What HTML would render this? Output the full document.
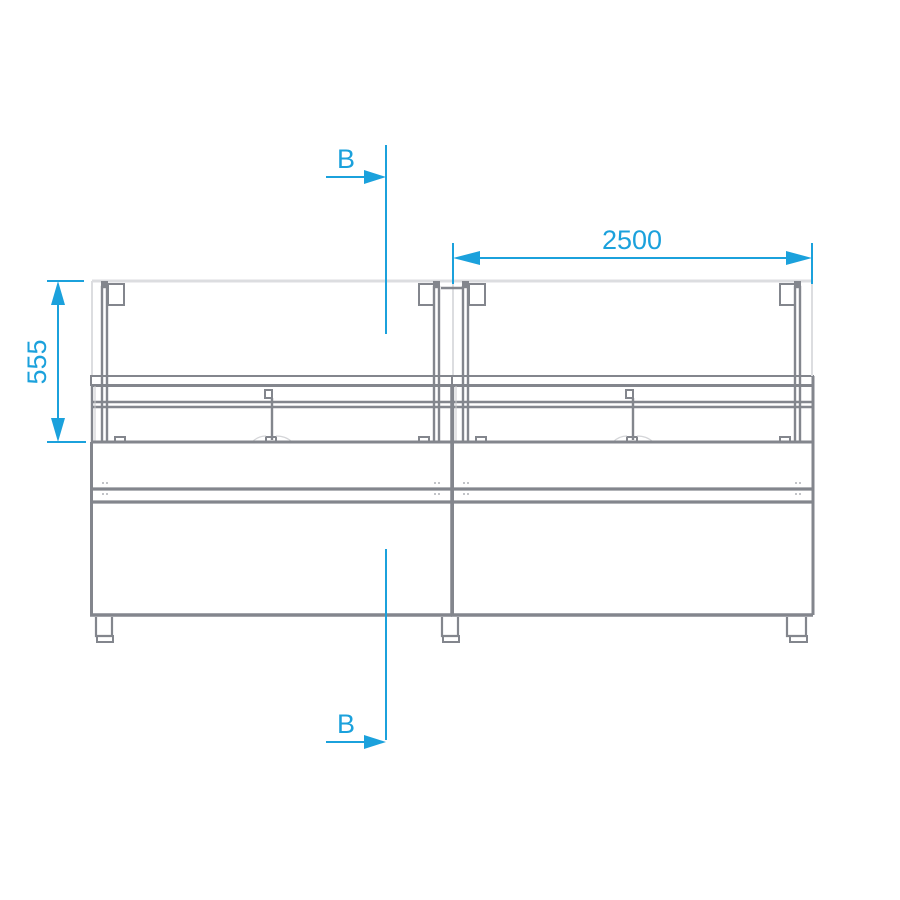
<!DOCTYPE html>
<html><head><style>html,body{margin:0;padding:0;background:#fff}svg{display:block}</style></head>
<body>
<svg width="900" height="900" viewBox="0 0 900 900" xmlns="http://www.w3.org/2000/svg" font-family="Liberation Sans, sans-serif">
<defs>
<g id="unit" fill="none" stroke="#83868d">
  <line x1="92" y1="281" x2="452" y2="281" stroke="#dcdde0" stroke-width="3"/>
  <line x1="92" y1="281" x2="92" y2="376" stroke="#dcdde0" stroke-width="2"/>
  <rect x="108" y="284" width="16" height="21" stroke-width="2"/>
  <rect x="419" y="284" width="15" height="21" stroke-width="2"/>
  <rect x="102" y="287" width="5" height="155" stroke-width="2.4"/>
  <rect x="434" y="287" width="5" height="155" stroke-width="2.4"/>
  <rect x="101" y="281" width="7" height="6" fill="#83868d" stroke="none"/>
  <rect x="433" y="281" width="7" height="6" fill="#83868d" stroke="none"/>
  <rect x="91" y="376" width="361" height="9" stroke-width="2"/>
  <line x1="91" y1="385.5" x2="452" y2="385.5" stroke-width="3"/>
  <line x1="91" y1="402" x2="452" y2="402" stroke-width="2.4"/>
  <line x1="91" y1="407" x2="452" y2="407" stroke-width="2.4"/>
  <line x1="92" y1="385" x2="92" y2="442" stroke-width="2.4"/>
  <line x1="95" y1="386" x2="95" y2="442" stroke-width="1" stroke="#c8c9cc"/>
  <line x1="272" y1="398" x2="272" y2="440" stroke-width="2.4"/>
  <rect x="265" y="390" width="7" height="8" stroke-width="2"/>
  <rect x="266" y="437" width="10" height="5" stroke-width="2"/>
  <path d="M252 442 Q258 436 266 436 M276 436 Q286 436 292 442" stroke="#d4d5d8" stroke-width="1.2"/>
  <rect x="115" y="437" width="10" height="5" stroke-width="2"/>
  <rect x="419" y="437" width="10" height="5" stroke-width="2"/>
  <line x1="91" y1="442" x2="452" y2="442" stroke-width="3"/>
  <line x1="91.5" y1="442" x2="91.5" y2="615" stroke-width="3"/>
  <line x1="91" y1="489" x2="452" y2="489" stroke-width="3.2"/>
  <line x1="91" y1="502" x2="452" y2="502" stroke-width="3.2"/>
  <line x1="90" y1="615" x2="452" y2="615" stroke-width="3.5"/>
  <g stroke-width="1.2" stroke="#9a9da3">
    <line x1="102" y1="483" x2="104" y2="483"/><line x1="106" y1="483" x2="108" y2="483"/>
    <line x1="102" y1="494" x2="104" y2="494"/><line x1="106" y1="494" x2="108" y2="494"/>
    <line x1="434" y1="483" x2="436" y2="483"/><line x1="438" y1="483" x2="440" y2="483"/>
    <line x1="434" y1="494" x2="436" y2="494"/><line x1="438" y1="494" x2="440" y2="494"/>
  </g>
</g>
</defs>
<use href="#unit"/>
<use href="#unit" x="361"/>
<g fill="none" stroke="#83868d">
  <line x1="812" y1="281" x2="812" y2="376" stroke="#dcdde0" stroke-width="2"/>
  <line x1="813" y1="376" x2="813" y2="615" stroke-width="3"/>
  <line x1="452" y1="385" x2="452" y2="615" stroke-width="3.5"/>
  <line x1="441" y1="288" x2="464" y2="288" stroke-width="2.4"/>
  <path d="M96 617 L96 636 L112 636 L112 617" stroke-width="2.2"/>
  <rect x="97" y="636" width="16" height="6" stroke-width="2"/>
  <path d="M442 617 L442 636 L458 636 L458 617" stroke-width="2.2"/>
  <rect x="443" y="636" width="16" height="6" stroke-width="2"/>
  <path d="M787 617 L787 636 L806 636 L806 617" stroke-width="2.2"/>
  <rect x="790" y="636" width="17" height="6" stroke-width="2"/>
</g>
<g stroke="#1ba1dc" fill="#1ba1dc">
  <line x1="386" y1="145" x2="386" y2="334" stroke-width="2"/>
  <line x1="386" y1="549" x2="386" y2="740" stroke-width="2"/>
  <line x1="326" y1="177" x2="370" y2="177" stroke-width="2"/>
  <polygon points="364,170 386,177 364,184" stroke="none"/>
  <line x1="326" y1="742" x2="370" y2="742" stroke-width="2"/>
  <polygon points="364,735 386,742 364,749" stroke="none"/>
  <line x1="47" y1="281" x2="84" y2="281" stroke-width="2"/>
  <line x1="47" y1="442" x2="86" y2="442" stroke-width="2"/>
  <line x1="58" y1="290" x2="58" y2="432" stroke-width="2"/>
  <polygon points="51,305 58,281 65,305" stroke="none"/>
  <polygon points="51,418 58,442 65,418" stroke="none"/>
  <line x1="453" y1="243" x2="453" y2="284" stroke-width="2"/>
  <line x1="812" y1="243" x2="812" y2="284" stroke-width="2"/>
  <line x1="470" y1="258" x2="795" y2="258" stroke-width="2"/>
  <polygon points="480,251 453,258 480,265" stroke="none"/>
  <polygon points="786,251 812,258 786,265" stroke="none"/>
</g>
<g fill="#1ba1dc" font-size="27">
  <text x="346" y="168" text-anchor="middle">B</text>
  <text x="346" y="733" text-anchor="middle">B</text>
  <text x="632" y="249" text-anchor="middle">2500</text>
  <text transform="translate(46,362) rotate(-90)" text-anchor="middle">555</text>
</g>
</svg>
</body></html>
